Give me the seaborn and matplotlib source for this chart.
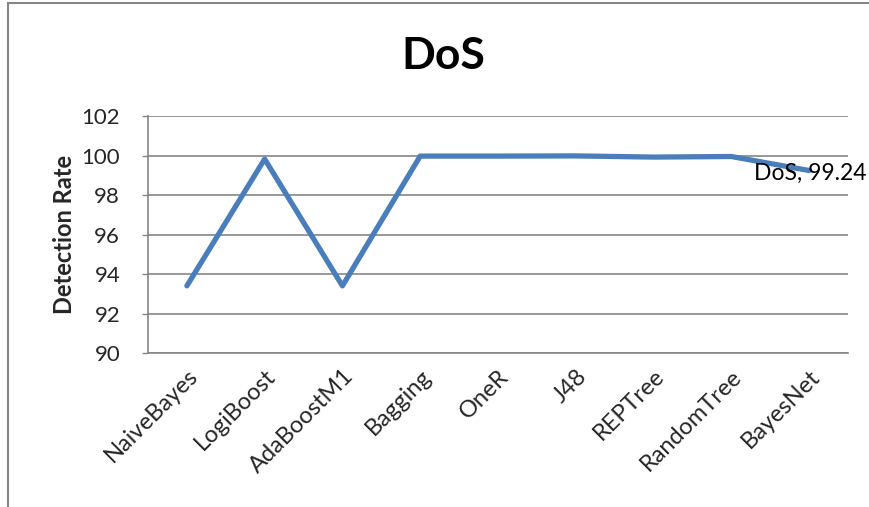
import matplotlib
matplotlib.use("Agg")
import matplotlib.pyplot as plt
from matplotlib.lines import Line2D
import seaborn as sns
import pandas as pd

classifiers = ["NaiveBayes", "LogiBoost", "AdaBoostM1", "Bagging", "OneR",
               "J48", "REPTree", "RandomTree", "BayesNet"]
detection_rate = [93.4, 99.82, 93.4, 99.97, 99.97, 99.98, 99.92, 99.95, 99.24]
y_ticks = [90, 92, 94, 96, 98, 100, 102]

df = pd.DataFrame({"Classifier": classifiers, "Rate": detection_rate})

sns.set_theme(style="white")
plt.rcParams["font.family"] = ["Lato", "DejaVu Sans"]

fig = plt.figure(figsize=(8.69, 5.07), dpi=100)
ax = fig.add_axes([0.1703, 0.3037, 0.8055, 0.4675])

grid_color = "#868686"
sns.lineplot(data=df, x="Classifier", y="Rate", ax=ax, color="#4A7EBB",
             linewidth=3.8, sort=False, solid_capstyle="round", zorder=3)

ax.set_xlim(-0.5, len(classifiers) - 0.5)
ax.set_ylim(90, 102)
ax.set_yticks(y_ticks)
ax.set_yticklabels([str(v) for v in y_ticks], fontsize=16)
ax.set_xticks(range(len(classifiers)))
ax.set_xticklabels(classifiers, rotation=45, ha="right", rotation_mode="anchor",
                   fontsize=17)
ax.tick_params(axis="x", length=0, pad=9)
ax.tick_params(axis="y", length=4, width=1, color=grid_color, pad=16, left=True)
ax.yaxis.grid(True, color=grid_color, linewidth=1.2)
ax.set_axisbelow(True)
for side in ["top", "right"]:
    ax.spines[side].set_visible(False)
for side in ["left", "bottom"]:
    ax.spines[side].set_color(grid_color)
    ax.spines[side].set_linewidth(1.2)

ax.set_xlabel("")
ax.set_ylabel("Detection Rate", fontsize=17, fontweight="bold", labelpad=4)
fig.text(0.51, 0.89, "DoS", fontsize=32, fontweight="bold", ha="center",
         va="center", color="black")

last = len(classifiers) - 1
ax.annotate(f"DoS, {detection_rate[last]}", (last, detection_rate[last]),
            ha="center", va="center", fontsize=16.5, color="black",
            xytext=(1, -2), textcoords="offset points", zorder=4)

# Chart-area frame
fig.add_artist(Line2D([0.0092, 1.0], [0.994, 0.994], color=grid_color,
                      linewidth=1.5, transform=fig.transFigure))
fig.add_artist(Line2D([0.0092, 0.0092], [0.0, 0.994], color=grid_color,
                      linewidth=1.5, transform=fig.transFigure))

fig.savefig("out.png", dpi=100)
